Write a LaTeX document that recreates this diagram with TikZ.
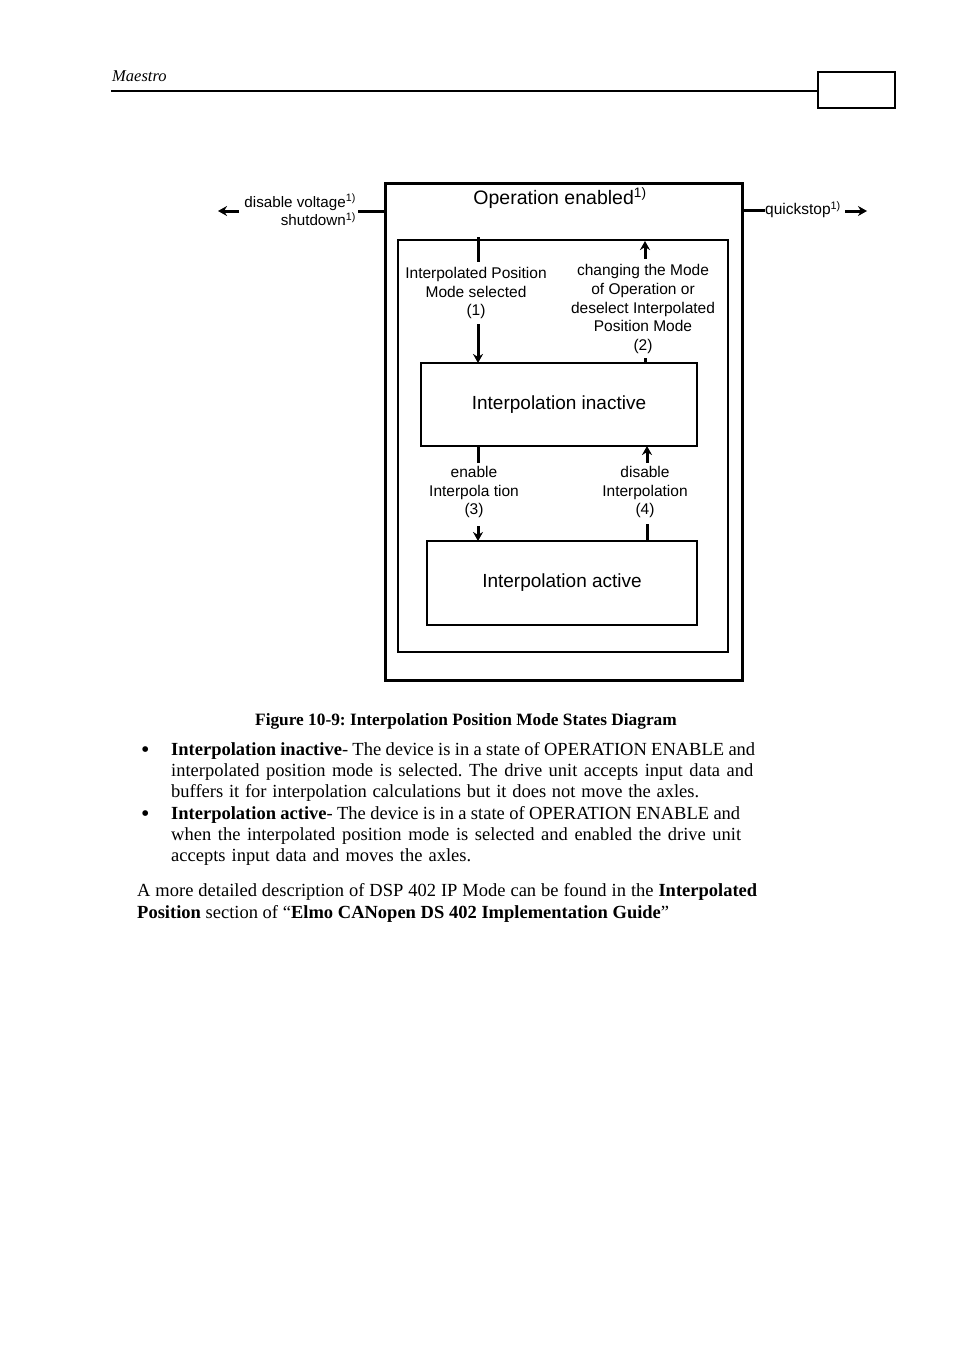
\documentclass[tikz,border=0pt]{standalone}
\usepackage{fontspec}
\setmainfont{Liberation Serif}
\newfontfamily\arial{Liberation Sans}
\usetikzlibrary{arrows.meta,calc}
\frenchspacing
\tikzset{
  box/.style={draw, inner sep=0pt, outer sep=0pt, anchor=north west},
  lbl/.style={font=\arial\fontsize{15.5}{18.8}\selectfont, align=center, inner sep=0pt},
  conn/.style={line width=3pt},
  arr/.style={line width=3pt, -{Stealth[length=9pt,width=10pt]}},
  body/.style={anchor=base west, inner sep=0pt, font=\fontsize{18.5}{21}\selectfont},
  bullet/.style={anchor=base west, inner sep=0pt, font=\fontsize{24}{24}\selectfont},
}
\begin{document}
\begin{tikzpicture}[x=1pt,y=-1pt]
\useasboundingbox (0,0) rectangle (954,1351);
\fill[white] (0,0) rectangle (954,1351);
% header
\node[anchor=base west, inner sep=0pt, font=\itshape\fontsize{16.5}{18}\selectfont] (hdr) at (112,82) {Maestro};
\coordinate (hl) at (111,91);
\node[box, line width=1.3pt, minimum width=77pt, minimum height=36pt] (pgbox) at (818,72) {};
\draw[line width=1.3pt] (hl) -- (hl -| pgbox.west);
% boxes
\node[box, line width=3pt, minimum width=357pt, minimum height=496pt] (outer) at (385,184) {};
\node[box, line width=2.5pt, minimum width=330pt, minimum height=412pt] (inner) at (398,240) {};
\node[box, line width=2.2pt, minimum width=276pt, minimum height=83pt,
      label={[font=\arial\fontsize{19}{22}\selectfont]center:Interpolation inactive}] (inact) at (421,363) {};
\node[box, line width=2.2pt, minimum width=270pt, minimum height=84pt,
      label={[font=\arial\fontsize{19}{22}\selectfont]center:Interpolation active}] (act) at (427,541) {};
\node[font=\arial\fontsize{19.5}{22}\selectfont, inner sep=0pt] (opt) at (560,198) {Operation enabled\textsuperscript{1)}};
% left exit
\coordinate (lstub) at (358,211);
\coordinate (ltail) at (239,211);
\coordinate (lhead) at (218,211);
\draw[conn] (outer.west |- lstub) -- (lstub);
\draw[arr] (ltail) -- (lhead);
\node[lbl, anchor=east, align=right, font=\arial\fontsize{15.2}{18.5}\selectfont] (dvtxt) at (356,210) {disable voltage\textsuperscript{1)}\\shutdown\textsuperscript{1)}};
% right exit
\node[lbl, anchor=west] (qs) at (765,210) {quickstop\textsuperscript{1)}};
\coordinate (rtail) at (845,211);
\coordinate (rhead) at (867,211);
\draw[conn] (outer.east |- qs) -- (qs.west);
\draw[arr] (rtail) -- (rhead);
% transition (1)
\node[lbl] (t1) at (476,293) {Interpolated Position\\Mode selected\\(1)};
\coordinate (x1) at (478,0);
\draw[conn] ($(inner.north -| x1)+(0,-3)$) -- ($(x1 |- t1.north)+(0,-5)$);
\draw[arr] ($(x1 |- t1.south)+(0,5)$) -- (x1 |- inact.north);
% transition (2)
\node[lbl] (t2) at (643,309) {changing the Mode\\of Operation or\\deselect Interpolated\\Position Mode\\(2)};
\coordinate (x2) at (645,0);
\draw[arr] ($(x2 |- t2.north)+(0,-5)$) -- ($(x2 |- inner.north)+(0,1)$);
\draw[conn] (x2 |- inact.north) -- ($(x2 |- inact.north)+(0,-5)$);
% transition (3)
\node[lbl] (t3) at (474,492) {enable\\Interpola tion\\(3)};
\coordinate (x3) at (478,0);
\draw[conn] (x3 |- inact.south) -- ($(x3 |- inact.south)+(0,17)$);
\draw[arr] ($(x3 |- t3.south)+(0,8)$) -- (x3 |- act.north);
% transition (4)
\node[lbl] (t4) at (645,492) {disable\\Interpolation\\(4)};
\coordinate (x4) at (647,0);
\draw[conn] (x4 |- act.north) -- ($(x4 |- act.north)+(0,-17)$);
\draw[arr] ($(x4 |- t4.north)+(0,-3)$) -- (x4 |- inact.south);
% caption and text
\node[anchor=base, inner sep=0pt, font=\bfseries\fontsize{17.3}{20}\selectfont] (cap) at (466,725) {Figure 10-9: Interpolation Position Mode States Diagram};
\node[bullet] (b1) at (141,757) {\textbullet};
\node[bullet] (b2) at (141,821) {\textbullet};
\node[body] (l1) at (171,755) {\makebox[584pt][s]{\textbf{Interpolation inactive}- The device is in a state of OPERATION ENABLE and}};
\node[body] (l2) at (171,776) {\makebox[582pt][s]{interpolated position mode is selected. The drive unit accepts input data and}};
\node[body] (l3) at (171,797) {\makebox[528pt][s]{buffers it for interpolation calculations but it does not move the axles.}};
\node[body] (l4) at (171,819) {\makebox[569pt][s]{\textbf{Interpolation active}- The device is in a state of OPERATION ENABLE and}};
\node[body] (l5) at (171,840) {\makebox[570pt][s]{when the interpolated position mode is selected and enabled the drive unit}};
\node[body] (l6) at (171,861) {\makebox[300pt][s]{accepts input data and moves the axles.}};
\node[body] (p1) at (137,896) {\makebox[620pt][s]{A more detailed description of DSP 402 IP Mode can be found in the \textbf{Interpolated}}};
\node[body] (p2) at (137,918) {\makebox[532pt][s]{\textbf{Position} section of “\textbf{Elmo CANopen DS 402 Implementation Guide}”}};
\end{tikzpicture}
\end{document}
